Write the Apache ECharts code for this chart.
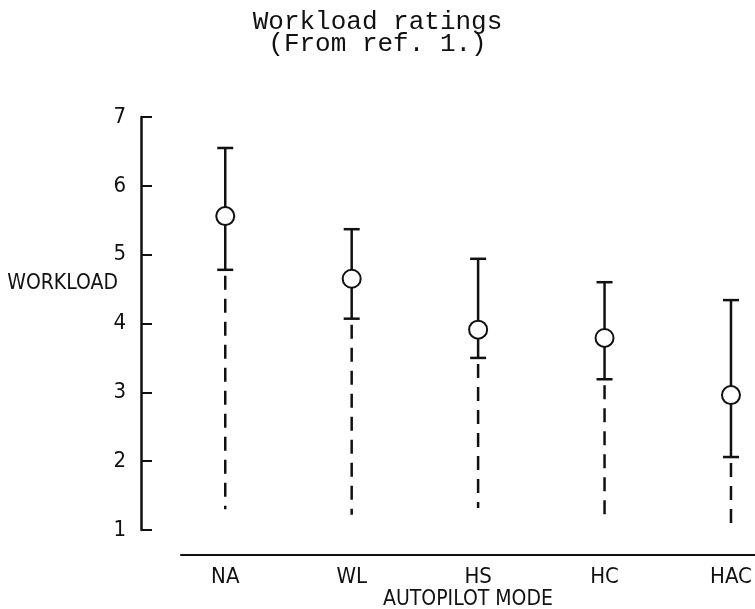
<!DOCTYPE html>
<html>
<head>
<meta charset="utf-8">
<title>Workload ratings</title>
<script src="https://cdn.jsdelivr.net/npm/echarts@6/dist/echarts.min.js"></script>
<style>
  html, body { margin: 0; padding: 0; background: #fff; }
  #chart { width: 755px; height: 609px; }
</style>
</head>
<body>
<div id="chart"></div>
<script>
// autopilot modes along the bottom
const categories = ['NA', 'WL', 'HS', 'HC', 'HAC'];
// mean rating (open circle)
const means = [5.56, 4.65, 3.91, 3.79, 2.96];
// solid bar ends
const lowerCap = [4.78, 4.07, 3.50, 3.19, 2.06];
const upperCap = [6.55, 5.37, 4.94, 4.60, 4.34];
// where the dashed line stops
const dashEnd = [1.30, 1.22, 1.32, 1.17, 1.10];
const yTicks = [1, 2, 3, 4, 5, 6, 7];

const narrow = '"Liberation Sans Narrow", "DejaVu Sans Condensed", "Roboto Condensed", sans-serif';
const ink = '#111';

const seriesData = categories.map((c, i) => [i + 1, means[i], lowerCap[i], upperCap[i], dashEnd[i]]);

// error bar: solid range with caps, dashed tail, open circle on top
const renderBar = (params, api) => {
  const x = api.value(0);
  const pMean = api.coord([x, api.value(1)]);
  const pLow = api.coord([x, api.value(2)]);
  const pHigh = api.coord([x, api.value(3)]);
  const pEnd = api.coord([x, api.value(4)]);
  const cap = 8;
  const solid = { stroke: ink, lineWidth: 2.5, fill: null };
  return {
    type: 'group',
    children: [
      { type: 'line', shape: { x1: pLow[0], y1: pLow[1], x2: pHigh[0], y2: pHigh[1] }, style: solid },
      { type: 'line', shape: { x1: pHigh[0] - cap, y1: pHigh[1], x2: pHigh[0] + cap, y2: pHigh[1] }, style: solid },
      { type: 'line', shape: { x1: pLow[0] - cap, y1: pLow[1], x2: pLow[0] + cap, y2: pLow[1] }, style: solid },
      {
        type: 'line',
        shape: { x1: pLow[0], y1: pLow[1] + 6, x2: pEnd[0], y2: pEnd[1] },
        style: { stroke: ink, lineWidth: 2.5, fill: null, lineDash: [14, 9] }
      },
      { type: 'circle', shape: { cx: pMean[0], cy: pMean[1], r: 9 }, style: { fill: '#fff', stroke: ink, lineWidth: 2 } }
    ]
  };
};

const chart = echarts.init(document.getElementById('chart'));
chart.setOption({
  backgroundColor: '#fff',
  animation: false,
  title: {
    text: 'Workload ratings\n(From ref. 1.)',
    left: 'center',
    top: 6,
    textStyle: {
      fontFamily: '"Liberation Mono", "DejaVu Sans Mono", monospace',
      fontSize: 26,
      fontWeight: 'normal',
      lineHeight: 22,
      color: ink
    }
  },
  grid: { left: 181, right: 0, top: 117, bottom: 79, outerBoundsMode: 'none' },
  xAxis: {
    type: 'value',
    min: 0.65,
    max: 5.19,
    offset: 25,
    name: 'AUTOPILOT MODE',
    nameLocation: 'middle',
    nameGap: 34,
    nameMoveOverlap: false,
    nameTextStyle: { fontFamily: narrow, fontSize: 21, color: ink },
    axisLine: { show: true, lineStyle: { color: ink, width: 2 } },
    axisTick: { show: false },
    splitLine: { show: false },
    axisLabel: {
      customValues: [1, 2, 3, 4, 5],
      formatter: (v) => categories[Math.round(v) - 1] || '',
      fontFamily: narrow,
      fontSize: 22,
      color: ink,
      margin: 11
    }
  },
  yAxis: {
    type: 'value',
    min: 1,
    max: 7,
    interval: 1,
    offset: 40,
    // blank lines below lift the name up between the 4 and 5 ticks
    name: 'WORKLOAD\n\n\n\n',
    nameLocation: 'middle',
    nameRotate: 0,
    nameGap: 23,
    nameMoveOverlap: false,
    nameTextStyle: { fontFamily: narrow, fontSize: 21, lineHeight: 20, color: ink },
    axisLine: { show: true, lineStyle: { color: ink, width: 2.5 } },
    axisTick: { show: true, inside: true, length: 11, lineStyle: { color: ink, width: 2 } },
    splitLine: { show: false },
    axisLabel: {
      fontFamily: narrow,
      fontSize: 22,
      color: ink,
      margin: 15,
      formatter: (v) => (yTicks.indexOf(v) >= 0 ? String(v) : '')
    }
  },
  series: [
    {
      type: 'custom',
      renderItem: renderBar,
      clip: false,
      encode: { x: 0, y: [1, 2, 3, 4] },
      data: seriesData
    }
  ]
});
</script>
</body>
</html>
